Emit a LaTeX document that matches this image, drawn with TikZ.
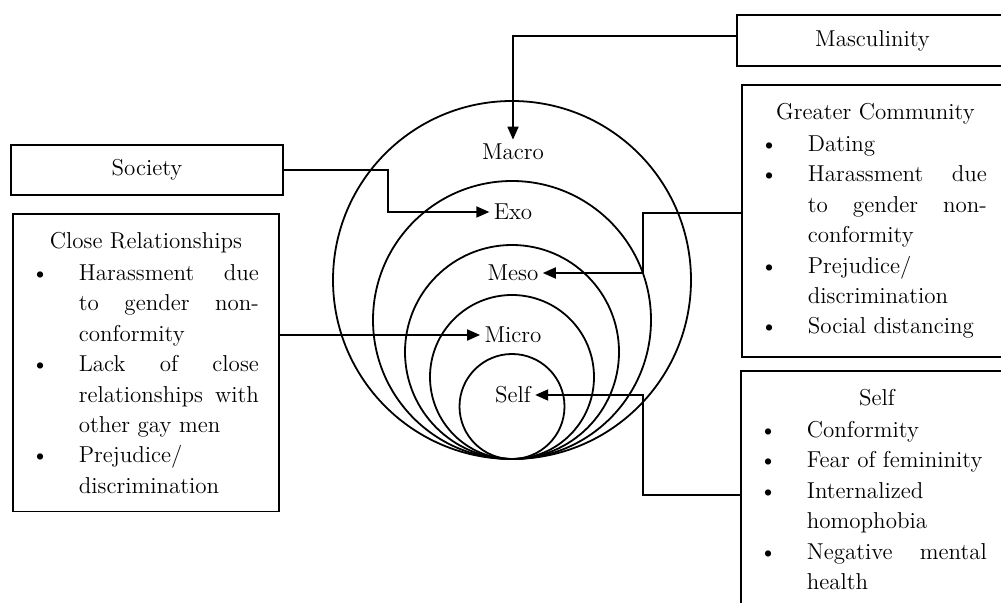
\documentclass[tikz,border=0pt]{standalone}
\usepackage{tikz}
\usepackage{enumitem}
\usetikzlibrary{arrows.meta}

\setlist[itemize]{label=\textbullet, leftmargin=28pt, labelsep=15pt, rightmargin=5pt,
	topsep=1pt, partopsep=0pt, itemsep=0pt, parsep=0pt}
\hyphenpenalty=10000
\tolerance=9999

\tikzset{
	box/.style={draw, line width=0.9pt, inner xsep=5pt, inner ysep=9pt, align=justify,
		font=\fontsize{11.5}{15.2}\selectfont},
	ring/.style={draw, circle, line width=0.9pt, inner sep=0pt},
	lvl/.style={font=\fontsize{11.5}{15}\selectfont, inner sep=2pt},
	feed/.style={line width=0.9pt, -{Triangle[length=6.5pt, width=5.5pt]}},
}

\begin{document}
\begin{tikzpicture}[x=0.5pt, y=-0.5pt]
	\clip (0,0) rectangle (1001,603);
	% the rings all touch at the bottom point (512,459)
	\node(macro) [ring, minimum size=179pt] at (512, 280) {};
	\node(exo) [ring, minimum size=139pt] at (512, 320) {};
	\node(meso) [ring, minimum size=107pt] at (512, 352) {};
	\node(micro) [ring, minimum size=82pt] at (512, 377) {};
	\node(selfring) [ring, minimum size=52.5pt] at (512, 406.5) {};
	\node(macroL) [lvl] at (513, 152) {Macro};
	\node(exoL) [lvl] at (513, 212) {Exo};
	\node(mesoL) [lvl] at (513, 273) {Meso};
	\node(microL) [lvl] at (513, 335) {Micro};
	\node(selfL) [lvl] at (513, 395) {Self};
	% boxes
	\node(masc) [box, minimum width=135.5pt, minimum height=25.5pt, inner ysep=5pt] at (872.5, 40.5) {Masculinity};
	\node(soc) [box, minimum width=136pt, minimum height=25pt, inner ysep=5pt] at (147, 170) {Society};
	\node(close) [box, anchor=north west, text width=123pt] at (12, 213) {
		{\centering Close Relationships\par}
		\begin{itemize}
			\item Harassment due\linebreak to gender non-\linebreak conformity
			\item Lack of close\linebreak relationships with\linebreak other gay men
			\item Prejudice/\newline discrimination
		\end{itemize}};
	\node(gc) [box, anchor=north west, text width=123.5pt] at (741, 84) {
		{\centering Greater Community\par}
		\begin{itemize}[rightmargin=6pt]
			\item Dating
			\item Harassment due\linebreak to gender non-\linebreak conformity
			\item Prejudice/\newline discrimination
			\item Social distancing
		\end{itemize}};
	\node(selfbox) [box, anchor=north west, text width=126pt] at (740, 370) {
		{\centering Self\par}
		\begin{itemize}[rightmargin=8pt]
			\item Conformity
			\item Fear of femininity
			\item Internalized\newline homophobia
			\item Negative mental\linebreak health
		\end{itemize}
		\vspace*{20pt}};
	% connectors
	\coordinate (gcjoin) at (643, 213);
	\coordinate (selfjoin) at (643, 495);
	\draw[feed] ([yshift=2.25pt]masc.west) -| (macroL.north);
	\draw[feed] (soc.east) -- ++(104, 0) |- (exoL.west);
	\draw[feed] (close.east |- microL) -- (microL.west);
	\draw[feed] (gc.west |- gcjoin) -- (gcjoin) |- (mesoL.east);
	\draw[feed] (selfbox.west |- selfjoin) -- (selfjoin) |- (selfL.east);
\end{tikzpicture}
\end{document}
